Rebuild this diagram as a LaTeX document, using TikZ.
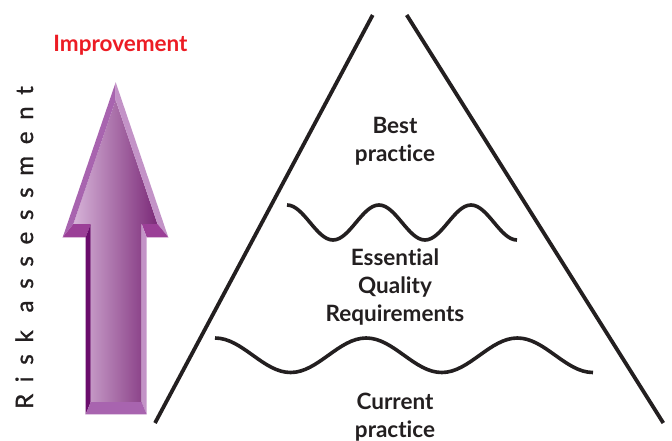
\documentclass[tikz,border=0pt]{standalone}
\usepackage{fontspec}
\setsansfont{Lato}[Ligatures=NoCommon]
\usetikzlibrary{positioning}

\definecolor{imprred}{HTML}{EC1C24}
\definecolor{inkgrey}{HTML}{231F20}
\definecolor{bevleft}{HTML}{A864AF}
\definecolor{bevright}{HTML}{C393C7}
\definecolor{shoulder}{HTML}{9B3F97}
\definecolor{shaftdark}{HTML}{6A0C6C}
\definecolor{faceleft}{HTML}{D6B3D8}
\definecolor{faceright}{HTML}{7B2A78}

\begin{document}
\begin{tikzpicture}[x=1pt,y=-1pt,on grid,
  every node/.style={text=inkgrey},
  level/.style={font=\sffamily\bfseries\fontsize{22.5}{28}\selectfont,align=center},
  edge line/.style={draw=inkgrey,line width=3.8pt},
  wave/.style={draw=inkgrey,line width=3.6pt}]
\useasboundingbox (0,0) rectangle (672,441);

% arrow
\coordinate (tip) at (115.7,82.3);
\coordinate (itip) at (115.7,100);
\coordinate (hl) at (62.7,237.3);
\coordinate (ihl) at (73.3,224);
\coordinate (hr) at (168.3,237.3);
\coordinate (ihr) at (157.5,224);
\coordinate (sl) at (85.7,237.3);
\coordinate (isl) at (90.7,224);
\coordinate (sr) at (146.7,237.3);
\coordinate (isr) at (141.7,224);
\coordinate (bl) at (85.7,414.3);
\coordinate (ibl) at (90.7,402);
\coordinate (br) at (146.7,414.3);
\coordinate (ibr) at (141.7,402);
\shade[left color=faceleft,right color=faceright]
  (itip) -- (ihl) -- (isl) -- (ibl) -- (ibr) -- (isr) -- (ihr) -- cycle;
\fill[bevleft] (tip) -- (hl) -- (ihl) -- (itip) -- cycle;
\fill[bevright] (tip) -- (hr) -- (ihr) -- (itip) -- cycle;
\fill[shoulder] (hl) -- (sl) -- (isl) -- (ihl) -- cycle;
\fill[shoulder] (hr) -- (sr) -- (isr) -- (ihr) -- cycle;
\fill[shaftdark] (sl) -- (bl) -- (ibl) -- (isl) -- cycle;
\fill[bevright] (sr) -- (br) -- (ibr) -- (isr) -- cycle;
\fill[bevleft] (bl) -- (br) -- (ibr) -- (ibl) -- cycle;

\node[font=\sffamily\bfseries\fontsize{22.5}{26}\selectfont,text=imprred] (impr) at (120.5,45) {Improvement};
\node[rotate=90,anchor=base,font=\sffamily\fontsize{24}{28}\selectfont\addfontfeature{LetterSpace=49,FakeBold=1.2}] (risk) at (33,247.5) {Risk assessment};

% pyramid
\coordinate (lb) at (155,423);
\coordinate (lt) at (372.7,15);
\coordinate (rt) at (406.7,15);
\coordinate (rb) at (663.3,423);
\draw[edge line] (lb) -- (lt);
\draw[edge line] (rt) -- (rb);

\coordinate (w1) at (287,205);
\coordinate (w2) at (215,338);
\draw[wave] (w1) \foreach \i in {1,2}{cos ++(23,17.5) sin ++(23,17.5) cos ++(23,-17.5) sin ++(23,-17.5)}
  cos ++(23,17.5) sin ++(23,17.5);
\draw[wave] (w2) \foreach \i in {1,2}{cos ++(37.8,17.25) sin ++(37.8,17.25) cos ++(37.8,-17.25) sin ++(37.8,-17.25)}
  cos ++(37.8,17.25) sin ++(37.8,17.25);

\node[level] (best) at (395,141) {Best\\practice};
\node[level,below=146pt of best] (eqr) {Essential\\Quality\\Requirements};
\node[level,below=130pt of eqr] (current) {Current\\practice};
\end{tikzpicture}
\end{document}
